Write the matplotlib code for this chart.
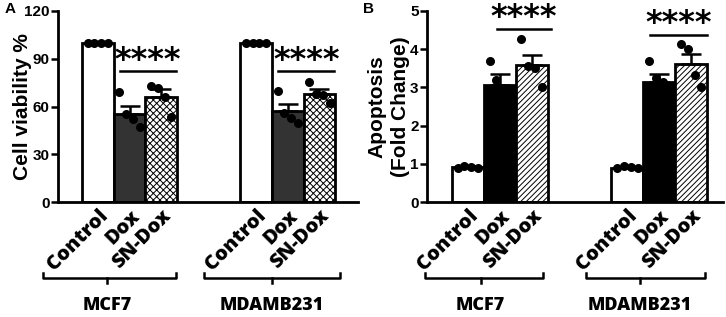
import matplotlib
matplotlib.use("Agg")
import matplotlib.pyplot as plt
import matplotlib.transforms as mtransforms
import numpy as np

# ---- data ----
groups = ["MCF7", "MDAMB231"]
treatments = ["Control", "Dox", "SN-Dox"]

via_means = [100, 55.5, 66.0, 100, 57.0, 68.0]
via_sems = [0, 4.8, 4.7, 0, 4.3, 3.2]
via_points = [
    [100, 100, 100, 100],
    [69, 55, 52, 47],
    [73, 71.5, 66, 53.5],
    [100, 100, 100, 100],
    [69.5, 56, 53, 49.5],
    [75.5, 68, 67.5, 62],
]

apo_means = [0.91, 3.07, 3.58, 0.90, 3.14, 3.61]
apo_sems = [0.02, 0.28, 0.27, 0.02, 0.22, 0.27]
apo_points = [
    [0.89, 0.94, 0.92, 0.90],
    [3.69, 3.20, 2.95, 2.41],
    [4.27, 3.55, 3.50, 3.00],
    [0.88, 0.93, 0.91, 0.89],
    [3.69, 3.24, 3.13, 2.69],
    [4.13, 4.00, 3.32, 3.00],
]

positions = [0, 1, 2, 5, 6, 7]

plt.rcParams['font.family'] = ['Liberation Sans', 'DejaVu Sans']
plt.rcParams['hatch.linewidth'] = 0.7

fig = plt.figure(figsize=(7.26, 3.17), dpi=100)
axA = fig.add_axes([58/726, 1-202/317, 300/726, 191/317])
axB = fig.add_axes([427/726, 1-202/317, 296/726, 191/317])

label_font = dict(family=['Open Sans', 'DejaVu Sans'], weight='heavy')


def draw(ax, means, sems, points, dox_color, sn_hatch, ylim, yticks, xlim):
    ax.set_xlim(*xlim)
    ax.set_ylim(*ylim)
    colors = ['white', dox_color, 'white'] * 2
    hatches = [None, None, sn_hatch] * 2
    for x, m, s, c, h, pts in zip(positions, means, sems, colors, hatches, points):
        ax.bar(x, m, width=1.0, color=c, edgecolor='black', linewidth=2.0,
               hatch=h, zorder=2)
        if s > 0:
            ax.errorbar(x, m, yerr=[[0], [s]], color='black', capsize=7,
                        capthick=1.8, elinewidth=1.8, zorder=3)
        offs = np.linspace(-0.32, 0.32, len(pts))
        ax.scatter(x + offs, pts, s=30, color='black', zorder=4, clip_on=False)
    for side in ['top', 'right']:
        ax.spines[side].set_visible(False)
    for side in ['left', 'bottom']:
        ax.spines[side].set_linewidth(2.0)
    ax.set_yticks(yticks)
    ax.tick_params(axis='y', width=1.8, length=5, labelsize=11, pad=1)
    for lab in ax.get_yticklabels():
        lab.set_fontweight('bold')
    ax.set_xticks(positions)
    ax.set_xticklabels(treatments * 2, rotation=45, ha='right',
                       rotation_mode='anchor', fontsize=14.5, **label_font)
    ax.tick_params(axis='x', length=0, pad=3)


draw(axA, via_means, via_sems, via_points, '#333333', 'xxxxx', (0, 120),
     [0, 30, 60, 90, 120], (-1.26, 8.22))
draw(axB, apo_means, apo_sems, apo_points, 'black', '//////', (0, 5),
     [0, 1, 2, 3, 4, 5], (-1.28, 8.0))

axA.set_ylabel('Cell viability %', fontsize=15, fontweight='bold')
axA.yaxis.set_label_coords(-0.087, 0.5)
axB.set_ylabel('Apoptosis\n(Fold Change)', fontsize=15, fontweight='bold',
               linespacing=1.3)
axB.yaxis.set_label_coords(-0.057, 0.5)

# significance
def sig(ax, x0, x1, yline, ystar):
    ax.plot([x0, x1], [yline, yline], color='black', lw=1.8, zorder=5, clip_on=False)
    ax.text((x0 + x1) / 2, ystar, '****', ha='center', va='center',
            fontsize=23, fontweight='bold', family=['DejaVu Sans'], clip_on=False)

sig(axA, 0.7, 2.47, 82, 89)
sig(axA, 5.7, 7.47, 82, 89)
sig(axB, 0.9, 2.6, 4.53, 4.82)
sig(axB, 5.72, 7.5, 4.37, 4.66)

# brackets and group labels
def bracket(ax, x0, x1, xc, name, ybr, ylab):
    tr = mtransforms.blended_transform_factory(ax.transData, ax.transAxes)
    h = 0.028
    ax.plot([x0, x0, x1, x1], [ybr + h, ybr, ybr, ybr + h], color='black',
            lw=1.8, transform=tr, clip_on=False)
    ax.plot([xc, xc], [ybr, ybr - h], color='black', lw=1.8, transform=tr,
            clip_on=False)
    ax.text(xc, ylab, name, transform=tr, ha='center', va='center',
            fontsize=13, **label_font)

yb = ((317-278)/317 - (1-202/317)) / (191/317)
yl = ((317-305)/317 - (1-202/317)) / (191/317)
bracket(axA, -1.72, 2.47, 0.3, groups[0], yb, yl)
bracket(axA, 3.36, 7.66, 5.5, groups[1], yb, yl)
bracket(axB, -1.34, 2.36, 0.4, groups[0], yb, yl)
bracket(axB, 3.72, 7.42, 5.4, groups[1], yb, yl)

fig.text(5/726, 1-9/317, 'A', fontsize=11, fontweight='bold', va='center', ha='left')
fig.text(363/726, 1-9/317, 'B', fontsize=11, fontweight='bold', va='center', ha='left')

fig.savefig('out.png', dpi=100)
